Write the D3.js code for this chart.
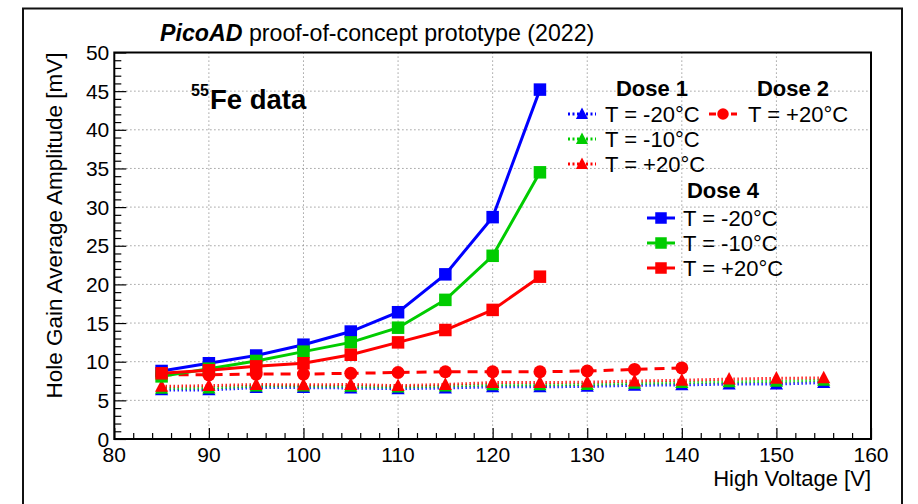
<!DOCTYPE html>
<html><head><meta charset="utf-8">
<script src="https://cdn.jsdelivr.net/npm/d3@7"></script>
<style>body{margin:0;background:#fff}svg{display:block}text{font-family:"Liberation Sans",Arial,Helvetica,sans-serif}</style>
</head><body><svg id="c" width="918" height="504"></svg>
<script>
// ---- data ----
const voltDose4 = [85, 90, 95, 100, 105, 110, 115, 120, 125];
const dose4Minus20 = [8.8, 9.8, 10.8, 12.2, 13.9, 16.4, 21.3, 28.7, 45.2];
const dose4Minus10 = [8.1, 9.1, 10.1, 11.3, 12.5, 14.4, 18.0, 23.7, 34.5];
const dose4Plus20  = [8.5, 8.9, 9.4, 9.8, 10.9, 12.5, 14.1, 16.7, 21.0];

const voltDose2 = [85, 90, 95, 100, 105, 110, 115, 120, 125, 130, 135, 140];
const dose2Plus20 = [8.3, 8.3, 8.4, 8.4, 8.5, 8.6, 8.7, 8.7, 8.7, 8.8, 9.0, 9.2];

const voltDose1 = [85, 90, 95, 100, 105, 110, 115, 120, 125, 130, 135, 140, 145, 150, 155];
const dose1Minus20 = [6.35, 6.35, 6.65, 6.65, 6.6, 6.5, 6.6, 6.75, 6.75, 6.8, 6.95, 7.0, 7.1, 7.1, 7.3];
const dose1Minus10 = [6.55, 6.6, 6.85, 6.85, 6.8, 6.7, 6.85, 7.0, 7.0, 7.05, 7.2, 7.3, 7.4, 7.45, 7.6];
const dose1Plus20  = [6.8, 6.9, 7.05, 7.0, 7.05, 6.9, 7.05, 7.3, 7.3, 7.35, 7.5, 7.6, 7.75, 7.85, 7.9];

const xTicks = [80, 90, 100, 110, 120, 130, 140, 150, 160];
const yTicks = [0, 5, 10, 15, 20, 25, 30, 35, 40, 45, 50];
const titleBold = "PicoAD";
const titleRest = " proof-of-concept prototype (2022)";
const xTitle = "High Voltage [V]";
const yTitle = "Hole Gain Average Amplitude [mV]";

// ---- layout ----
const svg = d3.select("#c");
const L = 114.3, R = 871, T = 52.5, B = 439;
const x = d3.scaleLinear().domain([80, 160]).range([L, R]);
const y = d3.scaleLinear().domain([0, 50]).range([B, T]);
const BLUE = "#0000ff", GREEN = "#00cc00", RED = "#ff0000";

// outer frame
svg.append("rect").attr("x", 23).attr("y", 8.5).attr("width", 879).attr("height", 520)
  .attr("fill", "none").attr("stroke", "#111").attr("stroke-width", 2);

// grid
const grid = svg.append("g").attr("stroke", "#888").attr("stroke-width", 1).attr("stroke-dasharray", "1.2,2.8");
xTicks.slice(1, -1).forEach(v => grid.append("line").attr("x1", x(v)).attr("x2", x(v)).attr("y1", T).attr("y2", B));
yTicks.slice(1, -1).forEach(v => grid.append("line").attr("x1", L).attr("x2", R).attr("y1", y(v)).attr("y2", y(v)));

// axes (ticks pointing inward, ROOT style)
const xMinor = d3.range(80, 160.1, 2);
const gx = svg.append("g").attr("transform", `translate(0,${B})`)
  .call(d3.axisBottom(x).tickValues(xMinor).tickSizeInner(0).tickSizeOuter(0).tickFormat(""));
gx.select(".domain").remove();
gx.selectAll(".tick").each(function(v) {
  d3.select(this).select("line").attr("y2", v % 10 === 0 ? -11 : -6).attr("stroke", "#000").attr("stroke-width", 1.2);
});
xTicks.forEach(v => gx.append("text").attr("x", x(v)).attr("y", 23).attr("text-anchor", "middle")
  .attr("fill", "#000").attr("font-size", 21).text(v));

const yMinor = d3.range(0, 50.1, 1);
const gy = svg.append("g").attr("transform", `translate(${L},0)`)
  .call(d3.axisLeft(y).tickValues(yMinor).tickSizeInner(0).tickSizeOuter(0).tickFormat(""));
gy.select(".domain").remove();
gy.selectAll(".tick").each(function(v) {
  d3.select(this).select("line").attr("x2", v % 5 === 0 ? 12 : 7).attr("stroke", "#000").attr("stroke-width", 1.2);
});
yTicks.forEach(v => gy.append("text").attr("x", -5).attr("y", y(v) + 7.5).attr("text-anchor", "end")
  .attr("fill", "#000").attr("font-size", 21).text(v));

svg.append("rect").attr("x", L).attr("y", T).attr("width", R - L).attr("height", B - T)
  .attr("fill", "none").attr("stroke", "#000").attr("stroke-width", 2);

// titles
svg.append("text").attr("x", 160).attr("y", 41).attr("font-size", 23.2)
  .call(t => { t.append("tspan").attr("font-weight", "bold").attr("font-style", "italic").text(titleBold);
               t.append("tspan").text(titleRest); });
svg.append("text").attr("x", R).attr("y", 486).attr("text-anchor", "end").attr("font-size", 22).text(xTitle);
svg.append("text").attr("transform", `translate(62,${T}) rotate(-90)`).attr("text-anchor", "end")
  .attr("font-size", 22.5).text(yTitle);
svg.append("text").attr("x", 191).attr("y", 96).attr("font-size", 16).attr("font-weight", "bold").text("55");
svg.append("text").attr("x", 210).attr("y", 109).attr("font-size", 27.5).attr("font-weight", "bold").text("Fe data");

// markers
const triPath = s => `M0,${-s*0.6}L${s*0.55},${s*0.45}L${-s*0.55},${s*0.45}Z`;
function marker(g, type, cx, cy, color, s) {
  if (type === "sq") g.append("rect").attr("x", cx - s/2).attr("y", cy - s/2).attr("width", s).attr("height", s).attr("fill", color);
  else if (type === "ci") g.append("circle").attr("cx", cx).attr("cy", cy).attr("r", s/2).attr("fill", color);
  else g.append("path").attr("d", triPath(s)).attr("transform", `translate(${cx},${cy})`).attr("fill", color);
}
const line = d3.line().x(d => x(d[0])).y(d => y(d[1]));
function series(volts, vals, color, dash, type, size) {
  const pts = volts.map((v, i) => [v, vals[i]]);
  const g = svg.append("g");
  g.append("path").datum(pts).attr("d", line).attr("fill", "none").attr("stroke", color)
    .attr("stroke-width", 3).attr("stroke-dasharray", dash);
  pts.forEach(p => marker(g, type, x(p[0]), y(p[1]), color, size));
}
const DOT = "1.3,2.7", DASH = "10,7";
series(voltDose1, dose1Minus20, BLUE, DOT, "tr", 12);
series(voltDose1, dose1Minus10, GREEN, DOT, "tr", 12);
series(voltDose1, dose1Plus20, RED, DOT, "tr", 12);
series(voltDose2, dose2Plus20, RED, DASH, "ci", 13);
series(voltDose4, dose4Minus20, BLUE, null, "sq", 12.5);
series(voltDose4, dose4Minus10, GREEN, null, "sq", 12.5);
series(voltDose4, dose4Plus20, RED, null, "sq", 12.5);

// legend
const lg = svg.append("g");
function legItem(mx, my, color, dash, type, label, tx) {
  lg.append("line").attr("x1", mx - 14).attr("x2", mx + 14).attr("y1", my).attr("y2", my)
    .attr("stroke", color).attr("stroke-width", 3).attr("stroke-dasharray", dash);
  marker(lg, type, mx, my, color, type === "tr" ? 11 : 11.5);
  lg.append("text").attr("x", tx).attr("y", my + 7.5).attr("font-size", 22).text(label);
}
lg.append("text").attr("x", 652).attr("y", 96).attr("text-anchor", "middle").attr("font-size", 22).attr("font-weight", "bold").text("Dose 1");
lg.append("text").attr("x", 793).attr("y", 96).attr("text-anchor", "middle").attr("font-size", 22).attr("font-weight", "bold").text("Dose 2");
lg.append("text").attr("x", 723).attr("y", 198).attr("text-anchor", "middle").attr("font-size", 22).attr("font-weight", "bold").text("Dose 4");
legItem(582, 114, BLUE, "2,2.5", "tr", "T = -20°C", 605);
legItem(582, 139, GREEN, "2,2.5", "tr", "T = -10°C", 605);
legItem(582, 164, RED, "2,2.5", "tr", "T = +20°C", 605);
legItem(723, 114, RED, "7,4", "ci", "T = +20°C", 748);
legItem(661, 218, BLUE, null, "sq", "T = -20°C", 683);
legItem(661, 243, GREEN, null, "sq", "T = -10°C", 683);
legItem(661, 268, RED, null, "sq", "T = +20°C", 683);
</script></body></html>
